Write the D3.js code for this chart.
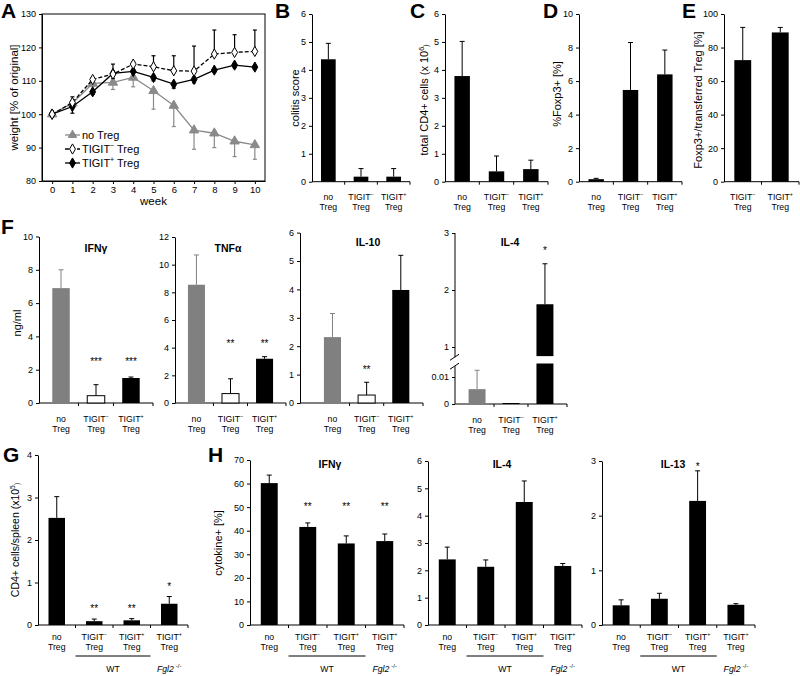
<!DOCTYPE html>
<html><head><meta charset="utf-8">
<script src="https://cdn.jsdelivr.net/npm/d3@7"></script>
<style>body{margin:0;background:#fff}</style>
</head><body>
<svg id="c" width="800" height="676" xmlns="http://www.w3.org/2000/svg"></svg>
<script>
// ---------------- DATA ----------------
const weeks = [0,1,2,3,4,5,6,7,8,9,10];
const weightNoTreg     = [100,103.3,109.2,109.5,111,107,102.6,95.2,94.3,91.9,90.8];
const weightNoTregErr  = [0,0.8,0.8,2.1,2.8,5.5,6.3,5.7,4.3,4.6,4.3];
const weightTigitNeg   = [100,103.5,110.4,112,115,114.2,113,112.9,118,118.5,118.8];
const weightTigitNegErr= [0,1.7,0.6,3,0.6,3.3,4.5,7.5,7.2,5.3,6.4];
const weightTigitPos   = [100,102.3,106.7,112.2,112.8,111,109,110.4,113.2,114.7,114.1];
const weightTigitPosErr= [0,2,0.8,1.5,1.5,1,1.2,1,0.6,0.8,0.6];
const weightTicks = [80,90,100,110,120,130];
const legendLabels = ["no Treg","TIGIT- Treg","TIGIT+ Treg"];

const catsTop = ["no Treg","TIGIT- Treg","TIGIT+ Treg"];
const catsE   = ["TIGIT- Treg","TIGIT+ Treg"];
const catsGH  = ["no Treg","TIGIT- Treg","TIGIT+ Treg","TIGIT+ Treg"];

const colitisScore = [4.38,0.18,0.18];   const colitisErr = [0.57,0.29,0.29];
const cd4Total     = [3.78,0.37,0.45];   const cd4TotalErr = [1.24,0.55,0.32];
const foxp3Pct     = [0.15,5.47,6.4];    const foxp3PctErr = [0.05,2.83,1.45];
const foxp3Trans   = [72.5,89];          const foxp3TransErr = [19.5,3];

const fIfng = [6.9,0.44,1.5];   const fIfngErr = [1.1,0.66,0.06]; const fIfngStars = ["","***","***"];
const fTnfa = [8.55,0.68,3.2];  const fTnfaErr = [2.15,1.07,0.15]; const fTnfaStars = ["","**","**"];
const fIl10 = [2.32,0.28,3.98]; const fIl10Err = [0.83,0.45,1.22]; const fIl10Stars = ["","**",""];
const fIl4  = [0.0055,0,1.75];  const fIl4Err  = [0.007,0,0.71];   const fIl4Stars  = ["","","*"];
const fIl4LowTicks = [0,0.01];  const fIl4HighTicks = [1,2,3];

const gCd4  = [2.52,0.09,0.11,0.5]; const gCd4Err = [0.5,0.05,0.04,0.17]; const gStars = ["","**","**","*"];
const hIfng = [60.2,41.6,34.6,35.6]; const hIfngErr = [3.4,1.7,3.2,3]; const hIfngStars = ["","**","**","**"];
const hIl4  = [2.4,2.13,4.5,2.16];   const hIl4Err  = [0.45,0.25,0.77,0.09]; const hIl4Stars = ["","","",""];
const hIl13 = [0.36,0.48,2.27,0.37]; const hIl13Err = [0.1,0.1,0.55,0.02]; const hIl13Stars = ["","","*",""];

// ---------------- DRAW ----------------
const FF = '"Liberation Sans", Arial, sans-serif';
const svg = d3.select("#c").attr("font-family", FF);
const GRAY = "#8a8a8a";
const fmt = d3.format("~g");
const CATFS = 8.7;

function styleAxis(a, fs){
  a.attr("font-family", FF);
  a.select(".domain").attr("stroke","#000");
  a.selectAll(".tick line").attr("stroke","#000");
  a.selectAll("text").attr("font-size", fs||9).attr("fill","#000");
}
function letter(t,x,y){ svg.append("text").attr("x",x).attr("y",y).attr("font-size",21).attr("font-weight","bold").attr("fill","#000").text(t); }
function vLabel(x, cy, parts, fs){
  const t = svg.append("text").attr("transform",`translate(${x},${cy}) rotate(-90)`).attr("text-anchor","middle").attr("font-size",fs||11).attr("fill","#000");
  parts.forEach(p => {
    if (typeof p === "string") t.append("tspan").text(p);
    else t.append("tspan").attr("font-size",(fs||11)*0.65).attr("dy",p.dy).text(p.t);
  });
  return t;
}
function tigitText(t, word, fs){
  if (word.startsWith("TIGIT")) {
    t.append("tspan").text("TIGIT");
    t.append("tspan").attr("font-size",fs*0.62).attr("dy",-4).text(word.endsWith("-") ? "\u2212" : "+");
  } else t.append("tspan").text(word);
}

function barPanel(o){
  const g = svg.append("g");
  const n = o.cats.length;
  const x = d3.scaleBand().domain(d3.range(n)).range([o.x0,o.x1]).paddingInner(0).paddingOuter(o.pad||0).align(o.align==null?0.5:o.align);
  const y = o.yScale || d3.scaleLinear().domain(o.domain).range([o.yB,o.yT]);
  if (!o.customAxis){
    const ax = d3.axisLeft(y).tickValues(o.ticks).tickSize(3).tickSizeOuter(0).tickPadding(3).tickFormat(fmt);
    styleAxis(g.append("g").attr("transform",`translate(${o.x0},0)`).call(ax));
  }
  g.append("line").attr("x1",o.x0).attr("x2",o.x1).attr("y1",o.yB).attr("y2",o.yB).attr("stroke","#000");
  const bnds = [o.x1];
  for (let i=1;i<n;i++) bnds.push(x(i));
  bnds.forEach(b => g.append("line").attr("x1",b).attr("x2",b).attr("y1",o.yB).attr("y2",o.yB+3).attr("stroke","#000"));
  const bw = x.bandwidth()*(o.bw||0.45);
  const fills = o.fills || o.cats.map(()=>"#000");
  const yv = o.yVal || (v => y(v));
  o.vals.forEach((v,i) => {
    const cx = x(i)+x.bandwidth()/2;
    const f = fills[i];
    if (o.drawBar) o.drawBar(g, cx, bw, v, f);
    else g.append("rect").attr("x",cx-bw/2).attr("width",bw).attr("y",yv(v)).attr("height",Math.max(0,o.yB-yv(v)))
      .attr("fill",f).attr("stroke", f==="#ffffff" ? "#000" : "none").attr("stroke-width",1);
    const e = o.errs[i];
    if (e > 0){
      const ec = f==="#ffffff" ? "#000" : f;
      const yt = yv(v+e);
      g.append("line").attr("x1",cx).attr("x2",cx).attr("y1",yv(v)).attr("y2",yt).attr("stroke",ec);
      g.append("line").attr("x1",cx-2.5).attr("x2",cx+2.5).attr("y1",yt).attr("y2",yt).attr("stroke",ec);
    }
    if (o.stars && o.stars[i]){
      const sy = o.starLevel!=null ? yv(o.starLevel)+5 : yv(v+e)-7;
      g.append("text").attr("x",cx).attr("y",sy).attr("text-anchor","middle").attr("font-size",10).attr("fill","#000").text(o.stars[i]);
    }
    const [a,b] = o.cats[i].split(" ");
    const t1 = g.append("text").attr("x",cx).attr("y",o.yB+o.off1).attr("text-anchor","middle").attr("font-size",CATFS).attr("fill","#000");
    tigitText(t1, a, CATFS);
    g.append("text").attr("x",cx).attr("y",o.yB+o.off2).attr("text-anchor","middle").attr("font-size",CATFS).attr("fill","#000").text(b);
  });
  if (o.title) g.append("text").attr("x",o.titleX).attr("y",o.titleY).attr("text-anchor","middle")
      .attr("font-size",10.5).attr("font-weight","bold").attr("fill","#000").html(o.title);
  if (o.wt){
    const l0 = x(1), l1 = x(3);
    g.append("line").attr("x1",l0).attr("x2",l1).attr("y1",656).attr("y2",656).attr("stroke","#000");
    g.append("text").attr("x",(l0+l1)/2).attr("y",672).attr("text-anchor","middle").attr("font-size",CATFS).text("WT");
    const fx = x(3)+x.bandwidth()/2;
    const ft = g.append("text").attr("x",fx).attr("y",672).attr("text-anchor","middle").attr("font-size",CATFS).attr("font-style","italic");
    ft.append("tspan").text("Fgl2");
    ft.append("tspan").attr("font-size",6).attr("dy",-4).attr("dx",2).attr("font-style","normal").text("-/-");
  }
  return {x,y,g};
}

// ---------- Panel A ----------
(function(){
  const x0=42,x1=265,yT=14,yB=181;
  const x = d3.scaleLinear().domain([-0.5,10.5]).range([x0,x1]);
  const y = d3.scaleLinear().domain([80,130]).range([yB,yT]);
  const g = svg.append("g");
  g.append("rect").attr("x",x0).attr("y",yT).attr("width",x1-x0).attr("height",yB-yT).attr("fill","none").attr("stroke","#000");
  styleAxis(g.append("g").attr("transform",`translate(${x0},0)`).call(d3.axisLeft(y).tickValues(weightTicks).tickSize(3).tickSizeOuter(0).tickPadding(3).tickFormat(fmt)));
  styleAxis(g.append("g").attr("transform",`translate(0,${yB})`).call(d3.axisBottom(x).tickValues(weeks).tickSize(3).tickSizeOuter(0).tickPadding(2).tickFormat(fmt)), 9.5);
  g.append("text").attr("x",(x0+x1)/2).attr("y",205).attr("text-anchor","middle").attr("font-size",11.5).text("week");
  vLabel(18,(yT+yB)/2,["weight [% of original]"],11.5);
  const line = d3.line().x((d,i)=>x(weeks[i])).y(d=>y(d));
  const series = [
    {v:weightNoTreg,e:weightNoTregErr,dir:-1,col:GRAY,dash:null,sym:d3.symbolTriangle,fill:GRAY},
    {v:weightTigitPos,e:weightTigitPosErr,dir:-1,col:"#000",dash:null,sym:d3.symbolDiamond,fill:"#000"},
    {v:weightTigitNeg,e:weightTigitNegErr,dir:1,col:"#000",dash:"4,2",sym:d3.symbolDiamond,fill:"#fff"}
  ];
  series.forEach(s=>{
    s.v.forEach((v,i)=>{
      if (!s.e[i]) return;
      const cx = x(weeks[i]), yt = y(v + s.dir*s.e[i]);
      g.append("line").attr("x1",cx).attr("x2",cx).attr("y1",y(v)).attr("y2",yt).attr("stroke",s.col).attr("stroke-width",1.2);
      g.append("line").attr("x1",cx-2).attr("x2",cx+2).attr("y1",yt).attr("y2",yt).attr("stroke",s.col).attr("stroke-width",1.2);
    });
  });
  series.forEach(s=>{
    g.append("path").datum(s.v).attr("d",line).attr("fill","none").attr("stroke",s.col).attr("stroke-width",1.3).attr("stroke-dasharray",s.dash);
    s.v.forEach((v,i)=>{
      g.append("path").attr("d",d3.symbol(s.sym).size(s.sym===d3.symbolTriangle?38:30)())
        .attr("transform",`translate(${x(weeks[i])},${y(v)})`).attr("fill",s.fill).attr("stroke",s.col).attr("stroke-width",1);
    });
  });
  const legendSeries = [series[0],series[2],series[1]];
  legendSeries.forEach((s,k)=>{
    const ly = 135 + k*14;
    g.append("line").attr("x1",65).attr("x2",80).attr("y1",ly).attr("y2",ly).attr("stroke",s.col).attr("stroke-width",1.3).attr("stroke-dasharray",s.dash);
    g.append("path").attr("d",d3.symbol(s.sym).size(30)()).attr("transform",`translate(72.5,${ly})`).attr("fill",s.fill).attr("stroke",s.col);
    const [a,b] = legendLabels[k].split(" ");
    const t = g.append("text").attr("x",82).attr("y",ly+4).attr("font-size",11);
    if (a.startsWith("TIGIT")) { t.append("tspan").text("TIGIT"); t.append("tspan").attr("font-size",7).attr("dy",-5).text(a.endsWith("-")?"\u2212":"+"); t.append("tspan").attr("dy",5).text(" "+b); }
    else t.text(legendLabels[k]);
  });
})();
letter("A",1,18);

// ---------- Panels B-E ----------
const topCommon = {yT:14, yB:181.7, off1:18, off2:28};
barPanel(Object.assign({x0:312,x1:410,domain:[0,6],ticks:[0,1,2,3,4,5,6],cats:catsTop,vals:colitisScore,errs:colitisErr},topCommon));
letter("B",275,18); vLabel(299,98,["colitis score"]);
barPanel(Object.assign({x0:445,x1:548,domain:[0,6],ticks:[0,1,2,3,4,5,6],cats:catsTop,vals:cd4Total,errs:cd4TotalErr},topCommon));
letter("C",410,18); vLabel(428,100,["total CD4+  cells (x 10",{t:"6",dy:-4},{t:")",dy:4}]);
barPanel(Object.assign({x0:579,x1:682,domain:[0,10],ticks:[0,2,4,6,8,10],cats:catsTop,vals:foxp3Pct,errs:foxp3PctErr},topCommon));
letter("D",543,18); vLabel(561,94,["%Foxp3+ [%]"]);
barPanel(Object.assign({x0:724,x1:799,domain:[0,100],ticks:[0,20,40,60,80,100],cats:catsE,vals:foxp3Trans,errs:foxp3TransErr},topCommon));
letter("E",682,18); vLabel(702,100,["Foxp3+/transferred Treg [%]"]);

// ---------- Panel F ----------
const fFills = ["#808080","#ffffff","#000000"];
const fCommon = {yB:403, off1:18.5, off2:29, bw:0.5, fills:fFills, titleY:252};
barPanel(Object.assign({x0:39,x1:153,yT:236.5,domain:[0,10],ticks:[0,2,4,6,8,10],cats:catsTop,vals:fIfng,errs:fIfngErr,stars:fIfngStars,starLevel:2.6,pad:0.13,title:"IFN&#947;",titleX:96},fCommon));
barPanel(Object.assign({x0:175,x1:286,yT:237,domain:[0,12],ticks:[0,2,4,6,8,10,12],cats:catsTop,vals:fTnfa,errs:fTnfaErr,stars:fTnfaStars,starLevel:4.4,pad:0.13,title:"TNF&#945;",titleX:228},fCommon));
barPanel(Object.assign({},fCommon,{x0:300,x1:423,yT:232.6,domain:[0,6],ticks:[0,1,2,3,4,5,6],cats:catsTop,vals:fIl10,errs:fIl10Err,stars:fIl10Stars,starLevel:1.23,pad:0.3,align:0.75,title:"IL-10",titleX:368,titleY:246}));
(function(){
  const yLow = d3.scaleLinear().domain([0,0.01]).range([404,377]);
  const yHigh = d3.scaleLinear().domain([1,2]).range([347,290]);
  const yv = v => v >= 0.5 ? yHigh(v) : yLow(v);
  const ax0 = 455;
  const p = barPanel(Object.assign({},fCommon,{yB:404,x0:ax0,x1:567,cats:catsTop,vals:fIl4,errs:fIl4Err,stars:fIl4Stars,starLevel:2.72,pad:0.15,
    customAxis:true, yScale:yLow, yVal:yv, title:"IL-4", titleX:510, titleY:246,
    drawBar:(g,cx,bw,v,f)=>{
      if (v >= 0.5){
        g.append("rect").attr("x",cx-bw/2).attr("width",bw).attr("y",yLow(0.015)).attr("height",404-yLow(0.015)).attr("fill",f);
        g.append("rect").attr("x",cx-bw/2).attr("width",bw).attr("y",yHigh(v)).attr("height",yHigh(0.84)-yHigh(v)).attr("fill",f);
      } else if (v > 0) {
        g.append("rect").attr("x",cx-bw/2).attr("width",bw).attr("y",yLow(v)).attr("height",404-yLow(v)).attr("fill",f);
      } else {
        g.append("line").attr("x1",cx-bw/2).attr("x2",cx+bw/2).attr("y1",403.5).attr("y2",403.5).attr("stroke","#000");
      }
    }}));
  const g = p.g;
  const a1 = g.append("g").attr("transform",`translate(${ax0},0)`).call(d3.axisLeft(yLow).tickValues(fIl4LowTicks).tickFormat(fmt).tickSize(3).tickSizeOuter(0).tickPadding(3));
  a1.select(".domain").remove(); styleAxis(a1);
  const a2 = g.append("g").attr("transform",`translate(${ax0},0)`).call(d3.axisLeft(yHigh).tickValues(fIl4HighTicks).tickFormat(fmt).tickSize(3).tickSizeOuter(0).tickPadding(3));
  a2.select(".domain").remove(); styleAxis(a2);
  g.append("line").attr("x1",ax0).attr("x2",ax0).attr("y1",404).attr("y2",yLow(0.014)).attr("stroke","#000");
  g.append("line").attr("x1",ax0).attr("x2",ax0).attr("y1",yHigh(0.82)).attr("y2",yHigh(3)).attr("stroke","#000");
  g.append("line").attr("x1",ax0-5).attr("x2",ax0+4).attr("y1",yLow(0.014)+3).attr("y2",yLow(0.014)-3).attr("stroke","#000");
  g.append("line").attr("x1",ax0-5).attr("x2",ax0+4).attr("y1",yHigh(0.82)+3).attr("y2",yHigh(0.82)-3).attr("stroke","#000");
})();
letter("F",1,234);
vLabel(21,323,["ng/ml"]);

// ---------- Panel G ----------
const ghCommon = {yB:625, off1:14.5, off2:25, wt:true, bw:0.44};
barPanel(Object.assign({},ghCommon,{x0:38,x1:188,yT:455,domain:[0,4],ticks:[0,1,2,3,4],cats:catsGH,vals:gCd4,errs:gCd4Err,stars:gStars}));
letter("G",3,462);
vLabel(19,540,["CD4+ cells/spleen (x10",{t:"5",dy:-4},{t:")",dy:4}],10.5);

// ---------- Panel H ----------
barPanel(Object.assign({},ghCommon,{x0:250,x1:404,yT:460,domain:[0,70],ticks:[0,10,20,30,40,50,60,70],cats:catsGH,vals:hIfng,errs:hIfngErr,stars:hIfngStars,starLevel:51,title:"IFN&#947;",titleX:330,titleY:468}));
barPanel(Object.assign({},ghCommon,{x0:428,x1:582,yT:461,domain:[0,6],ticks:[0,1,2,3,4,5,6],cats:catsGH,vals:hIl4,errs:hIl4Err,stars:hIl4Stars,title:"IL-4",titleX:502,titleY:468}));
barPanel(Object.assign({},ghCommon,{x0:602,x1:755,yT:461,domain:[0,3],ticks:[0,1,2,3],cats:catsGH,vals:hIl13,errs:hIl13Err,stars:hIl13Stars,starLevel:2.93,title:"IL-13",titleX:673,titleY:468}));
letter("H",208,462);
vLabel(222,543,["cytokine+ [%]"]);
</script>
</body></html>
